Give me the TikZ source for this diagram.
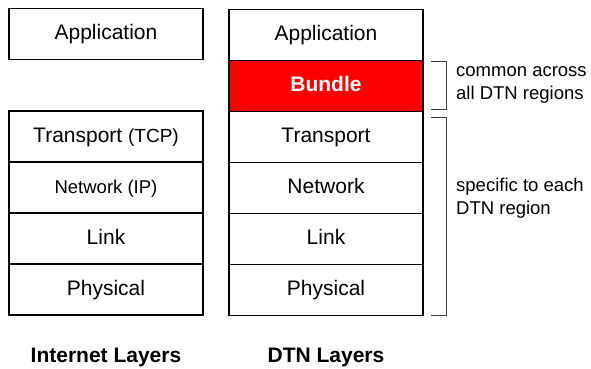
\documentclass[tikz,border=0pt]{standalone}
\usepackage{fontspec}
\setmainfont{Liberation Sans}
\usepackage{xcolor}
\usetikzlibrary{positioning}

\tikzset{
  layer/.style={rectangle, draw, line width=1.8pt, minimum width=194pt, minimum height=51pt,
    inner sep=0pt, outer sep=0pt, text height=15pt, text depth=4pt, font=\fontsize{21}{25}\selectfont},
  bundlelayer/.style={layer, fill=red, text=white, font=\fontsize{21}{25}\selectfont\bfseries},
  caption/.style={font=\fontsize{21}{25}\selectfont\bfseries},
  note/.style={anchor=west, align=left, inner sep=0pt, font=\fontsize{18.5}{23}\selectfont},
  brace/.style={draw=black!75, line width=0.9pt}
}

\begin{document}
\begin{tikzpicture}[x=1pt, y=-1pt]
        \useasboundingbox (0,0) rectangle (591,368);

        % Internet stack
        \node[layer] at (106, 34)       (iapp) {Application};
        \node[layer] at (106, 136.5)    (itcp) {Transport {\fontsize{19}{23}\selectfont(TCP)}};
        \node[layer, below=0pt of itcp, font=\fontsize{18.5}{23}\selectfont] (iip) {Network (IP)};
        \node[layer, below=0pt of iip]  (ilink) {Link};
        \node[layer, below=0pt of ilink] (iphy) {Physical};

        % DTN stack
        \node[layer] at (326, 35)       (dapp) {Application};
        \node[bundlelayer, below=0pt of dapp] (dbundle) {Bundle};
        \node[layer, below=0pt of dbundle] (dtrans) {Transport};
        \node[layer, below=0pt of dtrans] (dnet) {Network};
        \node[layer, below=0pt of dnet] (dlink) {Link};
        \node[layer, below=0pt of dlink] (dphy) {Physical};

        % brackets
        \draw[brace] (431, 61) -- (446, 61) -- (446, 109) -- (431, 109);
        \draw[brace] (431, 117) -- (446, 117) -- (446, 315) -- (431, 315);

        \node[note] at (456, 85)    (common) {common across\\all DTN regions};
        \node[note] at (456, 198)   (specific) {specific to each\\DTN region};

        \node[caption] at (106, 357) (icap) {Internet Layers};
        \node[caption] at (326, 357) (dcap) {DTN Layers};
    \end{tikzpicture}
\end{document}
